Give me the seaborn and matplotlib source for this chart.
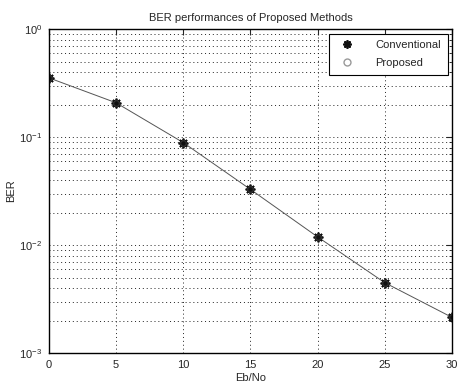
import matplotlib
matplotlib.use("Agg")
import matplotlib.pyplot as plt
import seaborn as sns
import pandas as pd
from matplotlib.ticker import LogLocator, NullFormatter
from matplotlib.lines import Line2D

ebno = [0, 5, 10, 15, 20, 25, 30]
ber_conventional = [0.354, 0.208, 0.089, 0.0328, 0.0119, 0.00448, 0.00214]
ber_proposed = [0.354, 0.208, 0.089, 0.0328, 0.0119, 0.00448, 0.00214]
xticks = [0, 5, 10, 15, 20, 25, 30]

sns.set_style("white")
plt.rcParams['font.family'] = ['Liberation Sans', 'DejaVu Sans']
plt.rcParams['mathtext.fontset'] = 'custom'
plt.rcParams['mathtext.rm'] = 'Liberation Sans'

df = pd.DataFrame({"EbNo": ebno, "Conventional": ber_conventional, "Proposed": ber_proposed})

fig = plt.figure(figsize=(4.57, 3.89), dpi=100)
ax = fig.add_axes([0.107, 0.0925, 0.882, 0.8325])

star = (8, 2, 0)
sns.lineplot(data=df, x="EbNo", y="Conventional", ax=ax, color="#555555", linewidth=0.7,
             marker=star, markersize=7, markeredgecolor="#111111", markeredgewidth=1.3,
             label="Conventional", legend=False)
sns.lineplot(data=df, x="EbNo", y="Proposed", ax=ax, linewidth=0.0,
             marker="o", markersize=4, markeredgecolor="#333333", markerfacecolor="none",
             markeredgewidth=0.8, label="Proposed", legend=False)

ax.set_yscale("log")
ax.set_xlim(0, 30)
ax.set_ylim(1e-3, 1)
ax.set_xticks(xticks)
ax.set_xticklabels([str(t) for t in xticks])
ax.yaxis.set_major_locator(LogLocator(base=10, numticks=10))
ax.yaxis.set_minor_locator(LogLocator(base=10, subs=range(2, 10), numticks=20))
ax.yaxis.set_minor_formatter(NullFormatter())

grid_ls = (0, (1, 3))
ax.grid(True, which="major", linestyle=grid_ls, color="#222222", linewidth=0.7)
ax.grid(True, which="minor", axis="y", linestyle=grid_ls, color="#222222", linewidth=0.7)
ax.tick_params(axis="both", which="both", direction="in", labelsize=8, top=True, right=True,
               pad=5)
ax.tick_params(axis="both", which="major", length=4)
ax.tick_params(axis="y", which="minor", length=2)
for s in ax.spines.values():
    s.set_color("black")
    s.set_linewidth(1.0)

ax.set_title("BER performances of Proposed Methods", fontsize=8, pad=6)
ax.set_xlabel("Eb/No", fontsize=8, labelpad=2)
ax.set_ylabel("BER", fontsize=8, labelpad=2)

handles = [Line2D([], [], linestyle="none", marker=star, markersize=6, color="#111111",
                  markeredgewidth=1.3),
           Line2D([], [], linestyle="none", marker="o", markersize=5, markerfacecolor="none",
                  markeredgecolor="#999999")]
leg = ax.legend(handles, ["Conventional", "Proposed"], loc="upper right", fontsize=8,
                fancybox=False, framealpha=1, edgecolor="black", borderaxespad=0.4,
                handletextpad=1.4, borderpad=0.6, handlelength=2.2, labelspacing=0.7)
leg.get_frame().set_linewidth(0.8)

fig.savefig("out.png", dpi=100)
